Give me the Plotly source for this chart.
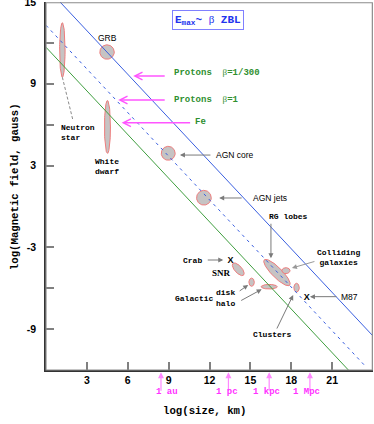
import numpy as np
import plotly.graph_objects as go

# Hillas plot: log(size, km) vs log(B, gauss)
obj_names = ["Neutron star", "White dwarf", "GRB", "AGN core", "AGN jets", "RG lobes",
             "Colliding galaxies", "SNR", "Galactic disk", "Galactic halo", "Clusters"]
obj_logsize = [1.20, 4.51, 4.48, 8.97, 11.59, 16.95, 17.61, 14.11, 15.09, 16.38, 18.39]
obj_logB = [11.48, 5.83, 11.33, 3.90, 0.64, -4.85, -4.71, -4.61, -5.56, -5.89, -5.96]
obj_half_size = [0.20, 0.22, 0.53, 0.51, 0.54, 1.32, 0.30, 0.58, 0.20, 0.59, 0.20]
obj_half_B = [2.00, 1.94, 0.53, 0.51, 0.54, 0.37, 0.22, 0.26, 0.30, 0.17, 0.32]
obj_tilt = [0, 0, 0, 0, 0, -45, 0, -48, 0, 0, 0]

point_names = ["Crab", "M87"]
point_logsize = [13.55, 19.13]
point_logB = [-3.98, -6.69]

# E_max ~ beta Z B L lines
line_names = ["Protons β=1/300", "Protons β=1", "Fe"]
line_slope = -1.067
line_intercept = [16.10, 13.29, 11.68]
line_xend = [24.0, 23.4, 24.0]

scale_names = ["1 au", "1 pc", "1 kpc", "1 Mpc"]
scale_logsize = [8.44, 13.39, 16.38, 19.37]

fig = go.Figure()

t = np.linspace(0, 2 * np.pi, 80)
for i, name in enumerate(obj_names):
    th = np.radians(obj_tilt[i])
    a, b = obj_half_size[i], obj_half_B[i]
    xs = obj_logsize[i] + a * np.cos(t) * np.cos(th) - b * np.sin(t) * np.sin(th)
    ys = obj_logB[i] + a * np.cos(t) * np.sin(th) + b * np.sin(t) * np.cos(th)
    fig.add_trace(go.Scatter(x=xs, y=ys, mode="lines", fill="toself",
                             fillcolor="#c6c3c3", line=dict(color="#ee7c7c", width=1),
                             name=name, hoverinfo="name"))

line_styles = [dict(color="#3a5fe0", width=1),
               dict(color="#3a5fe0", width=1, dash="3px,4px"),
               dict(color="#3f9e3f", width=1)]
for i, name in enumerate(line_names):
    xx = np.array([0.0, line_xend[i]])
    fig.add_trace(go.Scatter(x=xx, y=line_intercept[i] + line_slope * xx, mode="lines",
                             line=line_styles[i], name=name))

fig.add_trace(go.Scatter(x=point_logsize, y=point_logB, mode="text", text=["X", "X"],
                         textfont=dict(family="Liberation Sans", size=9, color="black", weight="bold"),
                         name="points"))

mono = "Liberation Mono"
sans = "Liberation Sans"


def label(x, y, text, family=mono, size=8, color="black", xanchor="center", align="center",
          weight="bold", xref="x", yref="y"):
    fig.add_annotation(x=x, y=y, xref=xref, yref=yref, text=text, showarrow=False,
                       xanchor=xanchor, align=align,
                       font=dict(family=family, size=size, color=color, weight=weight))


def arrow(x, y, ax, ay, color="#7a7a7a", width=1, head=2, yref="y", size=1):
    fig.add_annotation(x=x, y=y, xref="x", yref=yref, ax=ax, ay=ay, text="",
                       showarrow=True, arrowhead=head, arrowsize=size,
                       arrowwidth=width, arrowcolor=color)


# object labels
label(4.48, 12.36, "GRB", family=sans, size=8.5, weight="normal")
label(0.95, 5.46, "Neutron<br>star", xanchor="left", align="left")
label(4.51, 2.92, "White<br>dwarf", align="left")
label(13.87, 3.77, "AGN core", family=sans, size=8.5, weight="normal")
arrow(9.83, 3.77, 32, 0)
label(16.46, 0.60, "AGN jets", family=sans, size=8.5, weight="normal")
arrow(12.71, 0.62, 24, 0)
label(17.79, -0.75, "RG lobes")
arrow(16.51, -3.80, 0, -36)
label(21.44, -3.71, "Colliding<br>galaxies")
arrow(18.05, -4.52, 24, -7, color="#999999")
label(10.78, -3.93, "Crab")
arrow(13.01, -3.93, -17, 0)
label(12.89, -4.90, "SNR", family="Liberation Serif", size=9)
label(10.89, -6.72, "Galactic")
label(13.21, -6.30, "disk")
arrow(14.84, -5.76, -10, 7)
label(13.21, -7.11, "halo")
arrow(15.83, -6.08, -22, 12)
label(16.60, -9.43, "Clusters")
arrow(18.14, -6.50, -17, 35)
label(22.24, -6.62, "M87", family=sans, size=8.5, weight="normal")
arrow(19.37, -6.62, 28, 0)

fig.add_shape(type="line", x0=1.20, y0=9.48, x1=1.96, y1=6.39,
              line=dict(color="#8a8a8a", width=1, dash="3px,2px"))

# line labels
green = "#2f8f2f"
pink = "#ff55ff"
beta = '<span style="font-family:Liberation Serif;font-weight:normal">β</span>'
label(9.22, 9.81, "Protons\u00a0\u00a0" + beta + "=1/300", size=9, color=green, xanchor="left")
arrow(6.40, 9.57, 33, 0, color=pink, width=1.5, head=5)
label(9.22, 7.86, "Protons\u00a0\u00a0" + beta + "=1", size=9, color=green, xanchor="left")
arrow(5.30, 7.81, 48, 0, color=pink, width=1.5, head=5)
label(10.81, 6.17, "Fe", size=9, color=green, xanchor="left")
arrow(5.55, 6.14, 70, 0, color=pink, width=1.5, head=5)

fig.add_annotation(x=11.88, y=13.70, xref="x", yref="y", showarrow=False,
                   text="E<sub>max</sub>~ " + beta + " ZBL",
                   font=dict(family=mono, size=11, color="#2233ee", weight="bold"),
                   bordercolor="#8080ff", borderwidth=1, borderpad=2, bgcolor="white")

# distance scale markers
scale_label_x = [8.86, 13.32, 16.16, 19.10]
for i, name in enumerate(scale_names):
    arrow(scale_logsize[i], -0.006, 0, 20, color="#ff88ff", width=1.2, head=2, yref="paper")
    label(scale_label_x[i], -0.078, name.replace(" ", "\u00a0"), size=9, color="#ff33ff",
          yref="paper")

# axis titles
label(0.486, -0.134, "log(size, km)", size=10.7, xref="paper", yref="paper")
fig.add_annotation(x=-0.119, y=0.497, xref="paper", yref="paper", showarrow=False,
                   text="log(Magnetic field, gauss)", textangle=-90,
                   font=dict(family=mono, size=10.7, color="black", weight="bold"))

fig.add_shape(type="rect", xref="paper", yref="paper", x0=0, y0=0, x1=0.998, y1=0.998,
              line=dict(color="#8c8c8c", width=1.2), layer="above")

tickfont = dict(family=sans, size=10.5, color="black", weight="bold")
fig.update_layout(
    width=374, height=424, margin=dict(l=46, r=1, t=2, b=54, autoexpand=False),
    plot_bgcolor="white", paper_bgcolor="white", showlegend=False,
    xaxis=dict(range=[0, 24], showgrid=False, zeroline=False, showline=True, automargin=False,
               linecolor="#333333", linewidth=1.5, ticks="inside", ticklen=8,
               tickcolor="#808080", tickwidth=1.5, tickvals=[3, 6, 9, 12, 15, 18, 21],
               tickfont=tickfont, ticklabeloverflow="allow"),
    yaxis=dict(range=[-12, 15], showgrid=False, zeroline=False, showline=True, automargin=False,
               linecolor="#333333", linewidth=1.5, ticks="inside", ticklen=8,
               tickcolor="#808080", tickwidth=1.5,
               tickvals=[-9, -6, -3, 3, 6, 9, 12, 15],
               ticktext=["-9", "", "-3", "3", "", "9", "", "15"],
               tickfont=tickfont, ticklabelstandoff=6, ticklabeloverflow="allow"),
)

fig.write_html("out.html", config={"displayModeBar": False},
               post_script="document.body.style.margin='0';")
